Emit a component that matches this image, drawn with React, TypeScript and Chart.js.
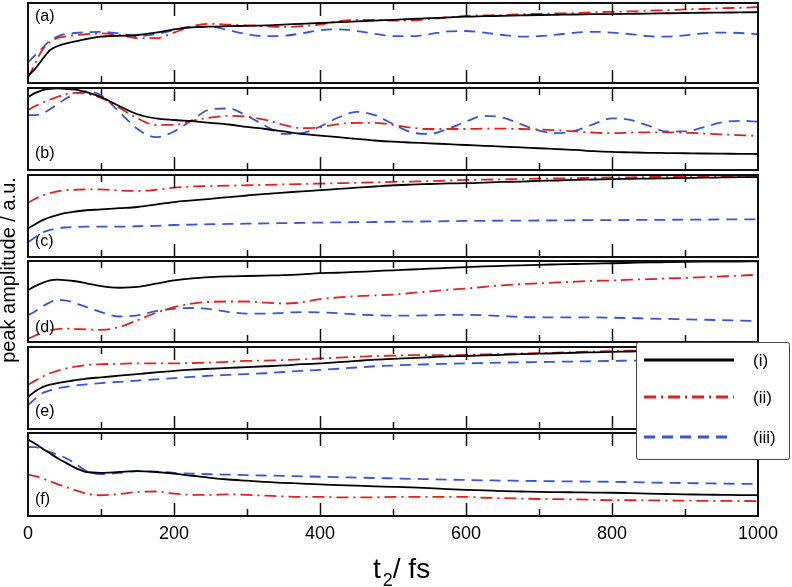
import React, { useEffect, useRef } from "react";
import { Chart, registerables } from "chart.js";
Chart.register(...registerables);

// ---- data ----
const T_FS = [0, 10, 20, 30, 40, 50, 65, 80,
  100, 125, 150, 175, 200, 225, 250, 275, 300, 325, 350, 375, 400, 425, 450, 475,
  500, 525, 550, 575, 600, 625, 650, 675, 700, 725, 750, 775, 800, 825, 850, 875,
  900, 925, 950, 975, 1000];

const A_I = [9, 18, 30, 41, 46, 49, 52, 55, 58, 59, 60, 63, 67, 69.5, 70.5, 71, 71.5, 72, 73, 74, 75, 76, 77, 78, 79, 80, 81, 82, 83, 83.5, 84, 84.5, 85, 85.3, 85.6, 86, 86.2, 86.5, 86.8, 87.2, 87.5, 87.8, 88, 88.3, 88.5];
const A_II = [6, 25, 42, 51, 56, 58, 60, 61, 62, 60, 56, 56, 63, 71, 74, 73, 72, 71, 70, 71, 73, 77, 79, 79, 78, 78, 80, 82, 84, 84.5, 85, 86, 86.5, 87, 87.5, 88.5, 89, 89.5, 90.5, 91, 92, 92.5, 93.5, 94, 95];
const A_III = [26, 35, 44, 53, 58, 61, 62.5, 63.5, 64, 62, 58.5, 61, 66, 70.5, 70.5, 66, 61, 58.5, 59, 62, 66, 67, 65, 61.5, 58.5, 58.5, 61, 64.5, 65, 63, 60, 58, 58.5, 60.5, 63, 64, 63, 61, 58.5, 58, 59.5, 62, 63, 62.5, 61];

const B_I = [89, 94, 97.5, 99, 99.5, 99, 98, 95, 89, 78, 68, 63, 61, 59.5, 57.5, 55.5, 52.5, 50, 47, 44, 42, 40, 38, 36, 34.5, 33.5, 32.5, 31.5, 30.5, 29.5, 28.5, 27.5, 26.5, 25.5, 24.5, 23, 22, 21.5, 21, 20.7, 20.4, 20.1, 19.9, 19.7, 19.5];
const B_II = [73, 78, 82, 86, 89, 92, 94, 93, 88, 76, 63, 55, 55, 60, 64, 66, 65, 61, 55, 51, 52, 56, 57.5, 57.5, 55, 51.5, 50, 50, 50, 50.5, 50.5, 50, 49.5, 48.5, 47, 45.5, 45, 45.5, 46, 46, 45.5, 44.5, 43.5, 42.5, 41.5];
const B_III = [67, 67, 69, 74, 80, 86, 93, 96, 91, 71, 50, 40, 47, 61, 74, 75, 66, 54, 44, 45, 53, 64, 71, 67, 56, 46, 44, 50, 59, 66, 64, 56, 48, 45, 48, 56, 63, 61, 54, 47, 47, 52, 58, 60, 59];

const C_I = [35, 40, 45, 48.5, 51, 53.5, 55.5, 57, 58, 59.5, 61, 64, 67, 69, 71, 73, 75, 77, 78.5, 80, 81.5, 83, 84.5, 86, 87.5, 88.3, 89, 89.7, 90, 90.8, 91.5, 92, 92.8, 93.3, 94, 94.5, 95, 95.3, 95.7, 96, 96.3, 96.7, 97, 97.3, 97.5];
const C_II = [66, 71, 75, 78, 80, 81.5, 82, 82.5, 82.5, 81, 80.5, 82, 84.5, 86, 86.5, 87, 87.5, 88, 88.5, 89, 89.5, 90, 90.5, 91, 91.5, 92, 92.5, 93.2, 94, 94.3, 94.7, 95, 95.5, 95.8, 96.2, 96.6, 97, 97.2, 97.5, 97.8, 98, 98.3, 98.5, 98.8, 99];
const C_III = [18, 24, 30, 33, 35, 36, 36.5, 37, 37, 37, 37.5, 38, 39, 39.5, 40, 40.3, 40.6, 41, 41.3, 41.6, 42, 42.2, 42.5, 42.7, 43, 43.2, 43.4, 43.7, 44, 44.1, 44.3, 44.4, 44.5, 44.6, 44.8, 44.9, 45, 45.1, 45.3, 45.4, 45.5, 45.6, 45.8, 45.9, 46];

const D_I = [64, 69, 73, 76, 77, 76.5, 75, 72.5, 69, 67, 68, 72, 76, 78.5, 80, 81, 81.5, 82, 82.5, 83.5, 85, 85.5, 86.5, 87.5, 88.5, 89.5, 90.5, 91.5, 92.5, 93.3, 94, 94.7, 95.3, 95.8, 96.3, 96.8, 97.2, 97.7, 98.2, 98.6, 99, 99.2, 99.3, 99.4, 99.5];
const D_II = [4, 8, 12, 14.5, 16, 16.5, 16, 15.5, 15, 18.5, 27, 36, 43, 47.5, 49.5, 50, 50, 48.5, 47.5, 49, 53, 55, 56.5, 57.5, 58.5, 60.5, 62.5, 64.5, 66, 68, 70, 71.5, 72.5, 73.5, 74.5, 75.5, 76, 77, 77.5, 78.5, 79, 80, 81, 82, 83];
const D_III = [33, 38, 44, 49, 52, 51.5, 48, 43, 37, 31.5, 33, 38, 41, 42, 40.5, 37, 35, 35, 36, 37, 36.5, 35.5, 34, 33, 32.5, 32.5, 33, 33.5, 33.5, 33, 32, 31, 30.5, 30.5, 30.5, 30.5, 30, 29.5, 29, 28.5, 28, 27.5, 27, 26.5, 26];

const E_I = [39, 46, 51, 54, 56, 57.5, 59.5, 61.5, 63, 65, 67, 69, 71, 72.5, 73.5, 74.5, 75.5, 76.5, 77.5, 79, 80, 81.5, 83, 84.5, 85.5, 86.5, 87.5, 88.5, 89, 89.8, 90.5, 91.2, 91.8, 92.4, 93, 93.5, 94, 94.5, 95, 95.4, 95.8, 96.2, 96.5, 96.8, 97];
const E_II = [54, 59, 64, 68, 71, 73.5, 76, 78, 79, 79.5, 80, 80, 80, 80.5, 81, 82, 83, 83.5, 84, 85, 86, 87, 88, 89, 89.5, 90, 90, 90, 90.5, 91, 91.5, 92, 92.5, 93, 93.8, 94.5, 95, 95.5, 96, 96.3, 96.7, 97, 97.3, 97.7, 98];
const E_III = [29, 37, 44, 47, 49.5, 51, 53, 54.5, 56, 57.5, 59, 60.5, 62, 63.5, 65, 66, 67, 68, 69.5, 71, 72, 73.5, 75, 76.5, 77.5, 78.3, 79, 79.5, 80, 80.5, 81, 81.3, 81.6, 82, 82.3, 82.7, 83, 83.4, 83.8, 84.2, 84.6, 85, 85.3, 85.7, 86];

const F_I = [92, 87, 81, 75.5, 70, 65, 58, 53, 52, 53, 54, 53, 51, 48.5, 46, 44, 42.5, 41, 40, 39, 38, 37.3, 36.5, 35.8, 35.2, 34.5, 33.5, 32.5, 31.5, 30.8, 30, 29.5, 29, 28.8, 28.5, 28.2, 28, 27.5, 27, 26.5, 26, 25.8, 25.5, 25.2, 25];
const F_II = [50, 48, 45, 42, 38.5, 35.5, 31, 27, 25, 26.5, 29, 29.5, 27, 25.5, 25.5, 26, 25.5, 24.5, 23.5, 23, 23, 22.5, 22.5, 22.5, 23, 23, 23, 23, 23, 22, 21.5, 21, 20.5, 20.3, 20, 19.5, 19, 19, 18.8, 18.6, 18.5, 18.3, 18.2, 18.1, 18];
const F_III = [83, 83, 80, 77, 74, 70.5, 63, 54, 50.5, 52, 54, 53.5, 52, 51, 50.3, 49.8, 49.3, 48.8, 48.3, 47.8, 47.3, 46.8, 46.3, 45.8, 45.3, 44.8, 44.3, 43.8, 43.4, 43, 42.7, 42.4, 42.1, 41.8, 41.6, 41.4, 41.2, 40.8, 40.4, 40, 39.7, 39.4, 39.1, 38.8, 38.5];

const PANEL_LABELS = ["(a)", "(b)", "(c)", "(d)", "(e)", "(f)"];
const SERIES_LABELS = ["(i)", "(ii)", "(iii)"];
const X_TITLE_MAIN = "t";
const X_TITLE_SUB = "2";
const X_TITLE_REST = "/ fs";
const Y_TITLE = "peak amplitude / a.u.";

const PANEL_SERIES = [
  [A_I, A_II, A_III],
  [B_I, B_II, B_III],
  [C_I, C_II, C_III],
  [D_I, D_II, D_III],
  [E_I, E_II, E_III],
  [F_I, F_II, F_III],
];

// ---- layout / style ----
const W = 792;
const H = 587;
const LEFT = 28;
const RIGHT = 758;
const PANEL_BOX = [[3, 83], [88, 170], [175, 257], [261, 342], [347, 429], [433, 516]];
const LABEL_Y = [17, 154, 242, 328, 412, 500];
const FONT = "'Liberation Sans', Arial, Helvetica, sans-serif";
const LINE_STYLES = [
  { color: "#000000", dash: [] as number[], width: 1.8 },
  { color: "#e0221c", dash: [12, 5, 2, 5], width: 1.8 },
  { color: "#3656d8", dash: [11, 7], width: 1.8 },
];

Chart.defaults.font.family = FONT;

function Panel({ idx }: { idx: number }) {
  const ref = useRef<HTMLCanvasElement | null>(null);
  useEffect(() => {
    const canvas = ref.current;
    if (!canvas) return;
    const [top, bottom] = PANEL_BOX[idx];
    const last = idx === PANEL_SERIES.length - 1;
    const axisH = 60;

    const framePlugin = {
      id: "frame" + idx,
      afterDatasetsDraw(chart: any) {
        const { ctx, chartArea: a, scales } = chart;
        const xs = scales.x;
        ctx.save();
        ctx.setLineDash([]);
        ctx.strokeStyle = "#111";
        ctx.lineWidth = 2;
        ctx.strokeRect(a.left, a.top, a.right - a.left, a.bottom - a.top);
        ctx.lineWidth = 1.5;
        for (let v = 100; v < 1000; v += 100) {
          const px = Math.round(xs.getPixelForValue(v)) + 0.5;
          const len = v % 200 === 0 ? 13 : 7;
          ctx.beginPath();
          ctx.moveTo(px, a.top);
          ctx.lineTo(px, a.top + len);
          ctx.moveTo(px, a.bottom);
          ctx.lineTo(px, a.bottom - len);
          ctx.stroke();
        }
        ctx.fillStyle = "#000";
        ctx.font = `16px ${FONT}`;
        ctx.textAlign = "left";
        ctx.textBaseline = "middle";
        ctx.fillText(PANEL_LABELS[idx], 35, LABEL_Y[idx]);
        ctx.restore();
      },
      afterDraw(chart: any) {
        if (!last) return;
        const ctx = chart.ctx as CanvasRenderingContext2D;
        ctx.save();
        // x title with subscript
        ctx.fillStyle = "#000";
        ctx.textAlign = "left";
        ctx.textBaseline = "alphabetic";
        ctx.font = `28px ${FONT}`;
        let x = 373;
        ctx.fillText(X_TITLE_MAIN, x, 578);
        x += ctx.measureText(X_TITLE_MAIN).width + 2;
        ctx.font = `18px ${FONT}`;
        ctx.fillText(X_TITLE_SUB, x, 586);
        x += ctx.measureText(X_TITLE_SUB).width;
        ctx.font = `28px ${FONT}`;
        ctx.fillText(X_TITLE_REST, x, 578);
        // y title
        ctx.save();
        ctx.translate(9, 270);
        ctx.rotate(-Math.PI / 2);
        ctx.font = `20px ${FONT}`;
        ctx.textAlign = "center";
        ctx.textBaseline = "middle";
        ctx.fillText(Y_TITLE, 0, 0);
        ctx.restore();
        // legend
        const lx = 636.5, ly = 342.5, lw = 153, lh = 117;
        ctx.beginPath();
        if ((ctx as any).roundRect) (ctx as any).roundRect(lx, ly, lw, lh, 2);
        else ctx.rect(lx, ly, lw, lh);
        ctx.fillStyle = "#fff";
        ctx.fill();
        ctx.strokeStyle = "#444";
        ctx.lineWidth = 1;
        ctx.stroke();
        const entryY = [360, 397, 437];
        SERIES_LABELS.forEach((lab, k) => {
          const st = LINE_STYLES[k];
          ctx.beginPath();
          ctx.setLineDash(st.dash);
          ctx.strokeStyle = st.color;
          ctx.lineWidth = 3;
          ctx.moveTo(644, entryY[k]);
          ctx.lineTo(734, entryY[k]);
          ctx.stroke();
          ctx.setLineDash([]);
          ctx.fillStyle = "#000";
          ctx.font = `17px ${FONT}`;
          ctx.textAlign = "left";
          ctx.textBaseline = "middle";
          ctx.fillText(lab, 753, entryY[k] + 1);
        });
        ctx.restore();
      },
    };

    const xScale: any = {
      type: "linear",
      min: 0,
      max: 1000,
      display: last,
      grid: { display: false, drawTicks: false },
      border: { display: false },
      ticks: {
        stepSize: 200,
        autoSkip: false,
        maxRotation: 0,
        padding: 7,
        color: "#000",
        font: { size: 18, family: FONT },
        callback: (v: any) => String(v),
      },
    };
    if (last) {
      xScale.afterFit = (s: any) => {
        s.height = axisH;
      };
    }

    const chart = new Chart(canvas, {
      type: "line",
      data: {
        datasets: PANEL_SERIES[idx].map((vals, k) => ({
          label: SERIES_LABELS[k],
          data: T_FS.map((t, i) => ({ x: t, y: vals[i] })),
          borderColor: LINE_STYLES[k].color,
          borderWidth: LINE_STYLES[k].width,
          borderDash: LINE_STYLES[k].dash,
          pointRadius: 0,
          fill: false,
          cubicInterpolationMode: "monotone" as const,
          order: k,
        })),
      },
      options: {
        responsive: false,
        animation: false,
        devicePixelRatio: 1,
        events: [],
        layout: {
          padding: {
            left: LEFT,
            right: W - RIGHT,
            top: top,
            bottom: last ? H - bottom - axisH : H - bottom,
          },
        },
        plugins: { legend: { display: false }, tooltip: { enabled: false }, title: { display: false } },
        scales: {
          x: xScale,
          y: { type: "linear", min: 0, max: 100, display: false },
        },
      },
      plugins: [framePlugin],
    } as any);
    return () => chart.destroy();
  }, [idx]);
  return (
    <canvas
      ref={ref}
      width={W}
      height={H}
      style={{ position: "absolute", left: 0, top: 0, width: W, height: H }}
    />
  );
}

export default function App() {
  return (
    <div style={{ position: "absolute", left: 0, top: 0, width: W, height: H, background: "#fff" }}>
      {PANEL_SERIES.map((_, i) => (
        <Panel key={i} idx={i} />
      ))}
    </div>
  );
}
